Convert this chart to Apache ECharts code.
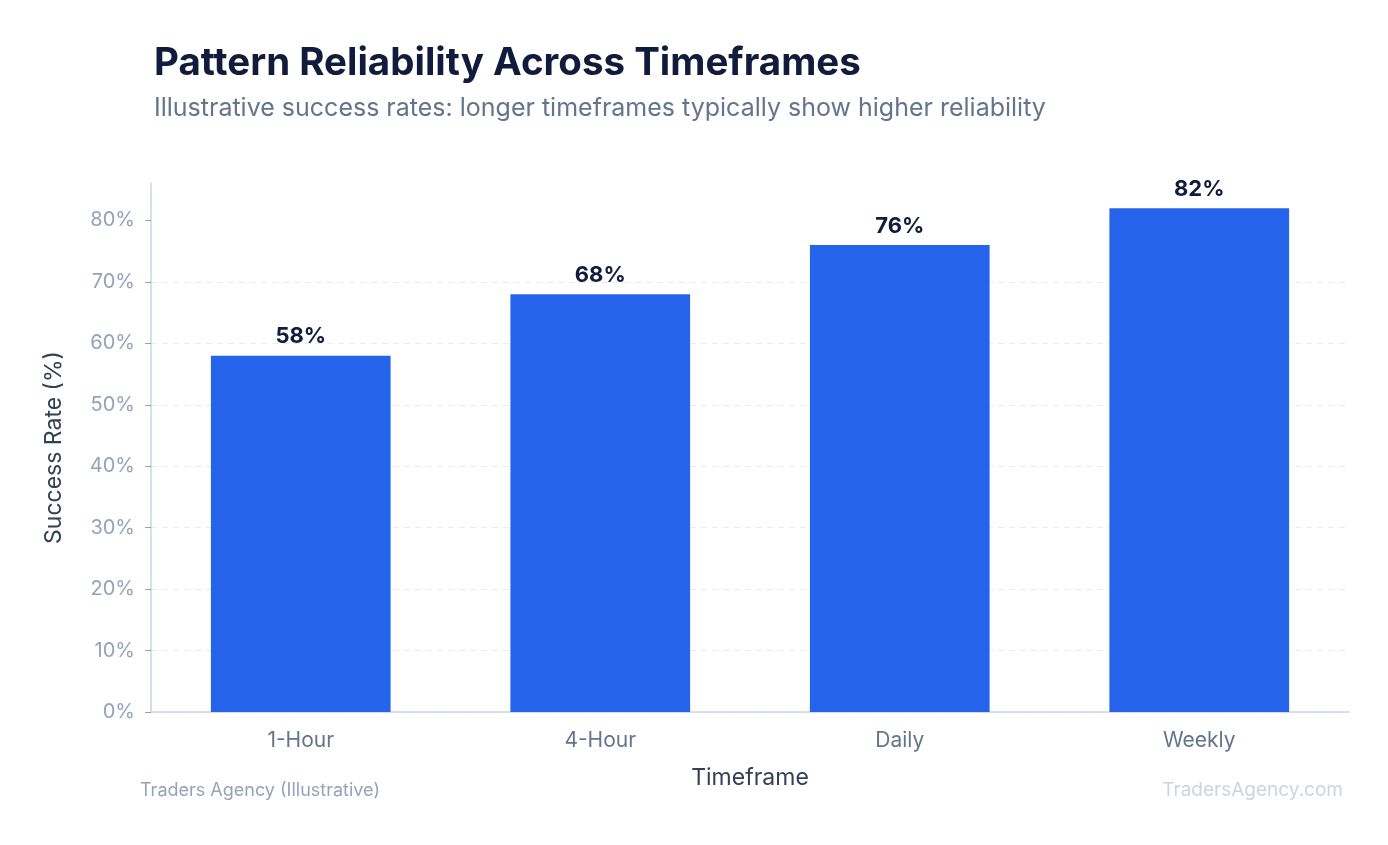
<!DOCTYPE html>
<html>
<head>
<meta charset="utf-8">
<style>
  html, body { margin: 0; padding: 0; background: #fff; }
  #chart { width: 1388px; height: 845px; }
</style>
<script src="https://cdn.jsdelivr.net/npm/echarts@6/dist/echarts.min.js"></script>
</head>
<body>
<div id="chart"></div>
<script>
// data
const timeframes = ['1-Hour', '4-Hour', 'Daily', 'Weekly'];
const successRates = [58, 68, 76, 82];
const yTicks = [0, 10, 20, 30, 40, 50, 60, 70, 80];

const FONT = 'Inter, "Noto Sans", sans-serif';

window.onload = function () {
    const myChart = echarts.init(document.getElementById('chart'));

    const option = {
        backgroundColor: '#ffffff',
        textStyle: { fontFamily: FONT },
        title: {
            text: 'Pattern Reliability Across Timeframes',
            subtext: 'Illustrative success rates: longer timeframes typically show higher reliability',
            left: 149,
            top: 39,
            itemGap: 13,
            textStyle: { fontFamily: FONT, fontSize: 38.5, fontWeight: 'bold', color: '#111c3d' },
            subtextStyle: { fontFamily: FONT, fontSize: 25, color: '#64748b' }
        },
        grid: {
            left: 151,
            right: 39,
            top: 183,
            bottom: 133
        },
        xAxis: {
            type: 'category',
            data: timeframes,
            name: 'Timeframe',
            nameLocation: 'middle',
            nameGap: 55,
            nameTextStyle: { fontFamily: FONT, fontSize: 23, color: '#334155' },
            axisLine: { lineStyle: { color: '#cbd5e1', width: 1.5 } },
            axisTick: { alignWithLabel: true, length: 6, lineStyle: { color: '#94a3b8' } },
            axisLabel: { fontFamily: FONT, fontSize: 21, color: '#64748b', margin: 18 }
        },
        yAxis: {
            type: 'value',
            min: 0,
            max: 86.1,
            interval: 10,
            name: 'Success Rate (%)',
            nameLocation: 'middle',
            nameGap: 85,
            nameTextStyle: { fontFamily: FONT, fontSize: 23, color: '#334155' },
            axisLine: { show: true, lineStyle: { color: '#cbd5e1', width: 1.5 } },
            axisTick: { show: true, length: 6, customValues: yTicks, lineStyle: { color: '#94a3b8' } },
            axisLabel: {
                fontFamily: FONT, fontSize: 20, color: '#94a3b8', margin: 16,
                customValues: yTicks,
                formatter: function (v) { return v + '%'; }
            },
            splitLine: { showMaxLine: false, lineStyle: { color: '#e8ecf2', type: [6, 5], width: 1 } }
        },
        series: [{
            type: 'bar',
            data: successRates,
            barWidth: '60%',
            itemStyle: { color: '#2563eb' },
            label: {
                show: true,
                position: 'top',
                distance: 8,
                fontFamily: FONT,
                fontSize: 22,
                fontWeight: 'bold',
                color: '#111c3d',
                formatter: '{c}%'
            }
        }],
        graphic: [
            {
                type: 'text',
                left: 140,
                top: 782,
                style: { text: 'Traders Agency (Illustrative)', font: '18px ' + FONT, fill: '#94a3b8' }
            },
            {
                type: 'text',
                right: 45,
                top: 781,
                style: { text: 'TradersAgency.com', font: '19px ' + FONT, fill: '#cbd5e1' }
            }
        ]
    };

    myChart.setOption(option);

    window.onresize = function () {
        myChart.resize();
    };
};
</script>
</body>
</html>
